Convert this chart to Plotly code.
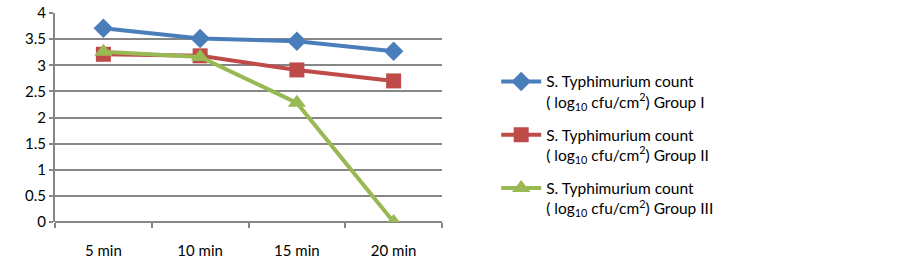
import plotly.graph_objects as go

categories = ["5 min", "10 min", "15 min", "20 min"]
group_i = [3.71, 3.51, 3.46, 3.27]
group_ii = [3.21, 3.18, 2.91, 2.70]
group_iii = [3.26, 3.16, 2.28, 0.0]
names = [
    "S. Typhimurium count<br>( log<sub>10</sub> cfu/cm<sup>2</sup>) Group I",
    "S. Typhimurium count<br>( log<sub>10</sub> cfu/cm<sup>2</sup>) Group II",
    "S. Typhimurium count<br>( log<sub>10</sub> cfu/cm<sup>2</sup>) Group III",
]
y_ticks = [0, 0.5, 1, 1.5, 2, 2.5, 3, 3.5, 4]

colors = ["#4A7EBB", "#BE4B48", "#98B954"]
symbols = ["diamond", "square", "triangle-up"]
sizes = [15, 15, 16]

fig = go.Figure()
for i, (vals, name, c, s, sz) in enumerate(zip([group_i, group_ii, group_iii], names, colors, symbols, sizes)):
    fig.add_trace(go.Scatter(
        x=categories, y=vals, name=name, mode="lines+markers",
        legendgroup=f"g{i}",
        line=dict(color=c, width=4),
        marker=dict(symbol=s, size=sz, color=c),
    ))

font = "Lato, 'Open Sans', sans-serif"
fig.update_layout(
    width=902, height=267,
    margin=dict(l=55, r=460, t=13, b=45, autoexpand=False),
    plot_bgcolor="white", paper_bgcolor="white",
    font=dict(family=font, size=15, color="#000000"),
    showlegend=True,
    legend=dict(
        x=1.14, y=0.752, xanchor="left", yanchor="top",
        valign="top", traceorder="grouped", tracegroupgap=10,
        font=dict(size=15.5, family=font),
        itemwidth=40,
    ),
    xaxis=dict(
        type="category", range=[-0.5, 3.5],
        tickson="boundaries", ticks="outside", ticklen=5, tickwidth=2,
        tickcolor="#868686", showgrid=False, showline=False,
        zeroline=False, ticklabelstandoff=18, automargin=False,
    ),
    yaxis=dict(
        range=[0, 4], tickvals=y_ticks, ticktext=[f"{v:g}" for v in y_ticks],
        showgrid=True, gridcolor="#868686", gridwidth=2,
        ticks="outside", ticklen=4, tickwidth=2, tickcolor="#868686",
        showline=True, linecolor="#868686", linewidth=2,
        zeroline=True, zerolinecolor="#868686", zerolinewidth=2,
        automargin=False,
    ),
)

fig.write_html("out.html", config={"displayModeBar": False},
               post_script="document.body.style.margin='0';")
